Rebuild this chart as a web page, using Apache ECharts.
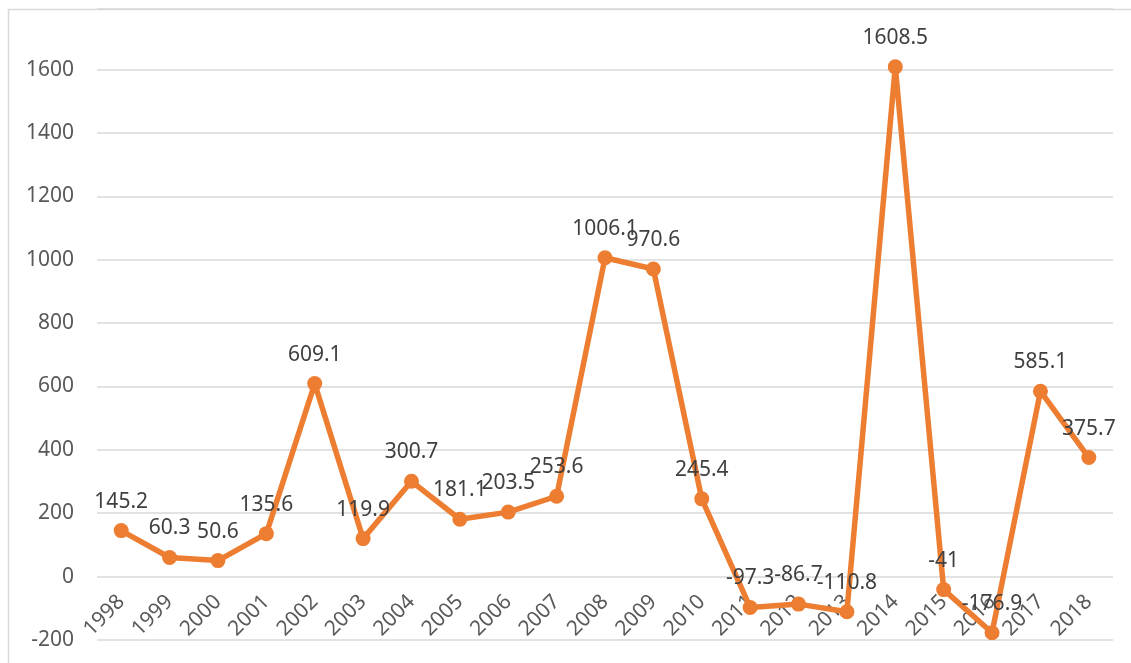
<!DOCTYPE html>
<html>
<head>
<meta charset="utf-8">
<script src="https://cdn.jsdelivr.net/npm/echarts@6/dist/echarts.min.js"></script>
<style>
  html, body { margin: 0; padding: 0; background: #fff; }
  #main { width: 1131px; height: 663px; }
</style>
</head>
<body>
<div id="main"></div>
<script>
// 年份与数值
var years = ['1998', '1999', '2000', '2001', '2002', '2003', '2004', '2005', '2006', '2007', '2008', '2009', '2010', '2011', '2012', '2013', '2014', '2015', '2016', '2017', '2018'];
var values = [145.2, 60.3, 50.6, 135.6, 609.1, 119.9, 300.7, 181.1, 203.5, 253.6, 1006.1, 970.6, 245.4, -97.3, -86.7, -110.8, 1608.5, -41, -176.9, 585.1, 375.7];
var yTicks = [-200, 0, 200, 400, 600, 800, 1000, 1200, 1400, 1600];

var yMin = yTicks[0], yMax = 1791;
var gridTop = 9, gridBottom = 23, H = 663;
// x轴放在0刻度处
var plotH = H - gridTop - gridBottom;
var zeroOffset = -(plotH * (0 - yMin) / (yMax - yMin));

var chart = echarts.init(document.getElementById('main'), null, { renderer: 'canvas' });

var option = {
  animation: false,
  textStyle: { fontFamily: 'Noto Sans' },
  graphic: [{
    type: 'rect',
    shape: { x: 8.5, y: 9.5, width: 1140, height: 700 },
    style: { fill: 'none', stroke: '#D9D9D9', lineWidth: 1.5 },
    z: -1
  }],
  grid: { left: 97, right: 18, top: gridTop, bottom: gridBottom, outerBoundsMode: 'none', containLabel: false },
  xAxis: {
    type: 'category',
    data: years,
    boundaryGap: true,
    offset: zeroOffset,
    axisLine: { show: false, onZero: false },
    axisTick: { show: false },
    axisLabel: {
      rotate: 45,
      margin: 22,
      fontSize: 21,
      color: '#595959',
      interval: 0
    }
  },
  yAxis: {
    type: 'value',
    min: yMin,
    max: yMax,
    interval: 200,
    axisLine: { show: false },
    axisTick: { show: false },
    splitLine: { lineStyle: { color: '#D9D9D9', width: 1.5 } },
    axisLabel: {
      showMaxLabel: false,
      margin: 23,
      fontSize: 21,
      color: '#595959',
      formatter: function (v) { return String(v); }
    }
  },
  series: [{
    type: 'line',
    data: values,
    symbol: 'circle',
    symbolSize: 15,
    clip: false,
    lineStyle: { color: '#ED7D31', width: 5.5 },
    itemStyle: { color: '#ED7D31' },
    label: {
      show: true,
      position: 'top',
      distance: 11,
      fontSize: 21,
      color: '#404040'
    }
  }]
};
chart.setOption(option);
</script>
</body>
</html>
